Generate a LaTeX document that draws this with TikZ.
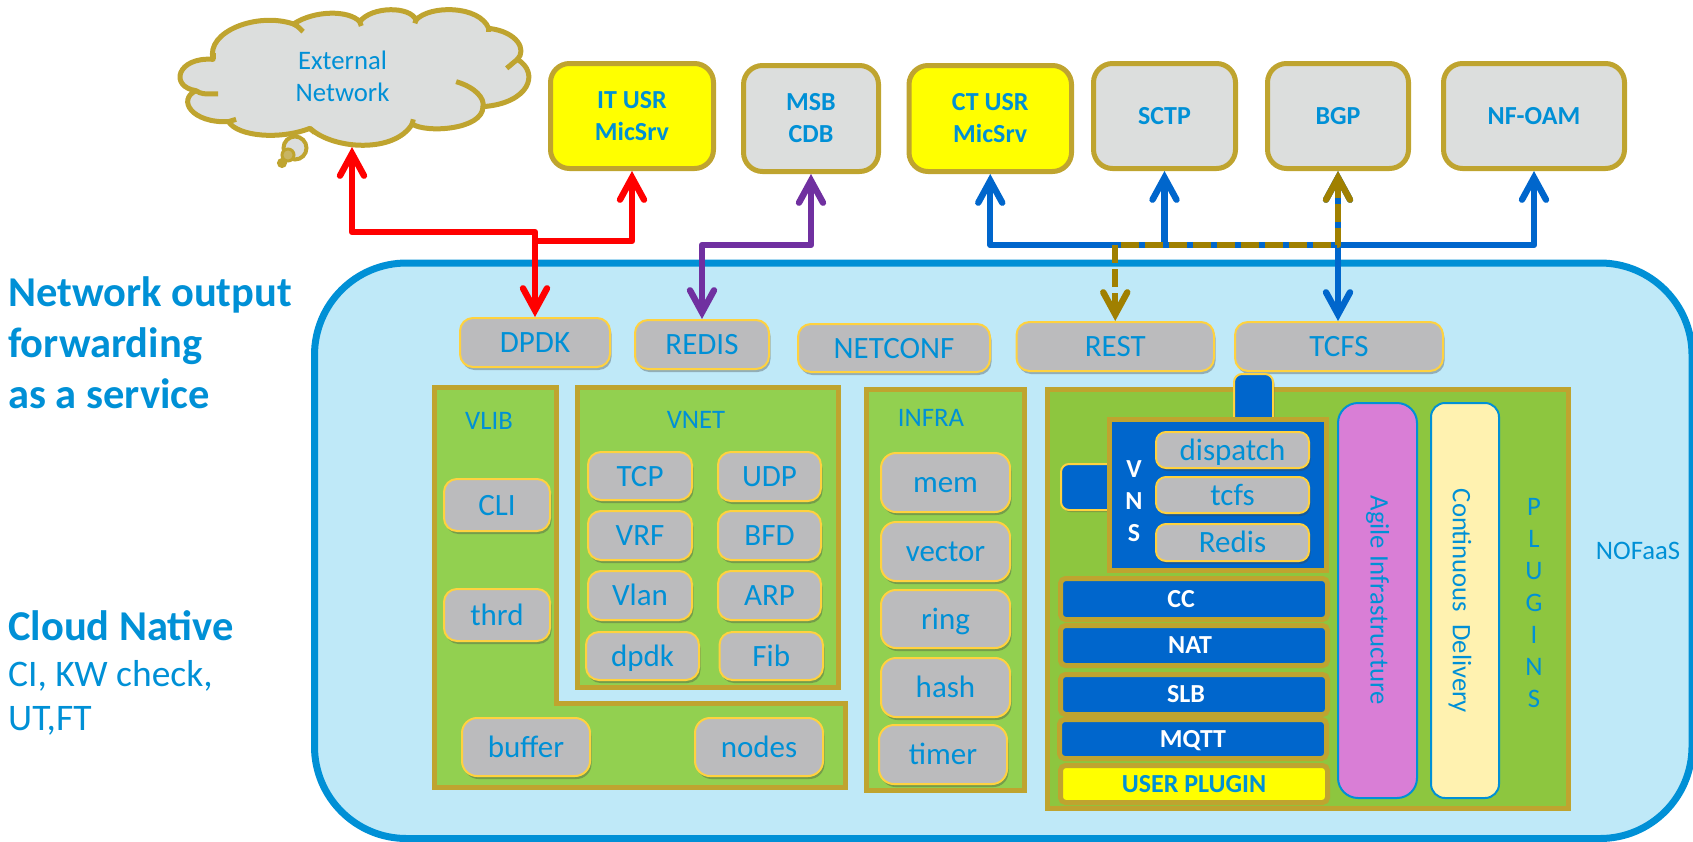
\documentclass[tikz,border=0pt]{standalone}
\usepackage{fontspec}
\setmainfont{Carlito}
\usetikzlibrary{arrows.meta,shadows,calc}
\definecolor{txtblue}{HTML}{0090D6}
\definecolor{gold}{HTML}{BFA42F}
\definecolor{ygold}{HTML}{FFD23F}
\definecolor{stdblue}{HTML}{0066CC}
\definecolor{topgray}{HTML}{DCDEDD}
\definecolor{midgray}{HTML}{BBBBBD}
\definecolor{mainfill}{HTML}{BFE9F8}
\definecolor{grnA}{HTML}{92D050}
\definecolor{grnB}{HTML}{8DC63F}
\definecolor{purp}{HTML}{7030A0}
\definecolor{dashgold}{HTML}{A08000}
\definecolor{pinkf}{HTML}{D97ED6}
\definecolor{creamf}{HTML}{FFF2B0}
\definecolor{pureyellow}{HTML}{FFFF00}
\definecolor{purered}{HTML}{FF0000}
\newcommand\mybox[8]{%
 \pgfmathsetmacro\myw{#6-#4-#3}\pgfmathsetmacro\myh{#7-#5-#3}%
 \pgfmathsetmacro\mycx{(#4+#6)/2}\pgfmathsetmacro\mycy{(#5+#7)/2}%
 \node[#1,minimum width=\myw pt,minimum height=\myh pt,line width=#3 pt] (#2) at (\mycx,\mycy) {#8};}
\tikzset{
 fA/.style={font=\fontsize{26.7}{32}\selectfont,text=txtblue},
 fB/.style={font=\bfseries\fontsize{26}{32}\selectfont,text=txtblue},
 topbox/.style={draw=gold,fill=topgray,rounded corners=19pt,inner sep=0pt,align=center,fB},
 ybox/.style={topbox,fill=pureyellow},
 gbox/.style={draw=ygold,fill=midgray,rounded corners=#1,inner sep=0pt,
   font=\fontsize{31}{36}\selectfont,text=txtblue,text height=26pt,text depth=6pt,
   drop shadow={shadow xshift=1.5pt,shadow yshift=-3pt,opacity=.35,fill=black!75}},
 gbox/.default=13pt,
 tabbox/.style={draw=ygold,fill=stdblue,rounded corners=8pt,
   drop shadow={shadow xshift=1.5pt,shadow yshift=-2pt,opacity=.35,fill=black!75}},
 panel/.style={draw=gold,fill=#1,line width=5pt,line join=miter},
 stripe/.style={draw=gold,fill=#1,rounded corners=5pt,inner sep=0pt,
   font=\bfseries\fontsize{26}{32}\selectfont,text=white,text height=21pt,text depth=4.3pt},
 tall/.style={draw=txtblue,fill=#1,inner sep=0pt},
 plain/.style={fA,inner sep=0pt,align=center},
 lefttxt/.style={inner sep=0pt,anchor=base west,align=left,text=txtblue},
 conn/.style={line width=6.4pt,line join=round,
   {Straight Barb[length=22pt,width=24pt,line cap=round,line join=miter]}-{Straight Barb[length=22pt,width=24pt,line cap=round,line join=miter]}},
 connup/.style={line width=6.4pt,line join=round,
   -{Straight Barb[length=22pt,width=24pt,line cap=round,line join=miter]}},
}
\begin{document}
\begin{tikzpicture}[x=1pt,y=-1pt]
\useasboundingbox (0,0) rectangle (1693,841);
\clip (0,0) rectangle (1693,841);
% main container
\draw[draw=txtblue,fill=mainfill,line width=7pt,rounded corners=92pt] (314.5,263) rectangle (1692,838.5);
\node[plain] (nofaas) at (1638,551) {NOFaaS};
% cloud
\begin{scope}[shift={(150,0)},x=0.3827pt,y=-0.3333pt,line width=5pt]
\draw[draw=gold,fill=topgray,line join=round]
 (165,178) .. controls (145,95) and (280,35) .. (375,72)
 .. controls (430,30) and (520,30) .. (548,65)
 .. controls (580,18) and (680,18) .. (695,60)
 .. controls (730,15) and (860,15) .. (885,85)
 .. controls (960,95) and (985,150) .. (960,178)
 .. controls (1020,220) and (990,310) .. (870,320)
 .. controls (870,390) and (720,400) .. (685,372)
 .. controls (640,460) and (480,450) .. (418,385)
 .. controls (340,420) and (230,410) .. (205,365)
 .. controls (110,370) and (70,300) .. (120,272)
 .. controls (50,260) and (70,170) .. (165,178) -- cycle;
\draw[gold] (375,72) .. controls (385,78) .. (400,95);
\draw[gold] (548,65) -- (552,78);
\draw[gold] (695,60) -- (692,70);
\draw[gold] (885,85) -- (885,95);
\draw[gold] (960,178) -- (932,205);
\draw[gold] (800,245) .. controls (850,262) and (875,295) .. (870,320);
\draw[gold] (685,372) -- (688,358);
\draw[gold] (418,385) -- (430,398);
\draw[gold] (205,365) -- (225,358);
\draw[gold] (120,272) .. controls (135,282) .. (178,282);
\draw[gold] (165,178) -- (165,160);
\end{scope}
\draw[draw=gold,fill=topgray,line width=4pt] (295,148) circle (11.5pt);
\draw[draw=gold,fill=gold!70!topgray,line width=3pt] (288,155) circle (6pt);
\draw[draw=gold,fill=gold,line width=2pt] (282,163) circle (4pt);
\node[plain] (extnet) at (342.5,76) {External\\Network};
\coordinate (cloudpt) at (352,147);
% top boxes
\mybox{ybox}{itusr}{5}{548}{61}{716}{171}{IT USR\\MicSrv}
\mybox{topbox}{msb}{5}{741}{63}{881}{174}{MSB\\CDB}
\mybox{ybox}{ctusr}{5}{906.5}{63}{1074}{174}{CT USR\\MicSrv}
\mybox{topbox}{sctp}{5}{1091}{61}{1238}{171}{SCTP}
\mybox{topbox}{bgp}{5}{1265}{61}{1411}{171}{BGP}
\mybox{topbox}{nfoam}{5}{1441}{61}{1627}{171}{NF-OAM}
% service row
\mybox{gbox}{dpdk}{2}{459}{317}{611}{368}{DPDK}
\mybox{gbox}{redis}{2}{634}{319}{770}{370}{REDIS}
\mybox{gbox}{netconf}{2}{797}{323}{991}{373}{NETCONF}
\mybox{gbox}{rest}{2}{1015.5}{321}{1215}{372}{REST}
\mybox{gbox}{tcfs}{2}{1234}{321}{1444}{372}{TCFS}
% VLIB
\draw[panel=grnA] (434.5,387.5) -- (556.5,387.5) -- (556.5,703.5) -- (845.5,703.5) -- (845.5,787.5) -- (434.5,787.5) -- cycle;
\node[plain] (vlib) at (489,421) {VLIB};
\mybox{gbox}{cli}{2}{443}{478}{551}{532}{CLI}
\mybox{gbox}{thrd}{2}{443}{588}{551}{642}{thrd}
\mybox{gbox=15pt}{buffer}{2}{461}{717}{591}{777}{buffer}
\mybox{gbox=15pt}{nodes}{2}{694}{717}{824}{777}{nodes}
% VNET
\draw[panel=grnA] (577.5,387.5) rectangle (838.5,687.5);
\node[plain] (vnet) at (696,420) {VNET};
\mybox{gbox}{tcp}{2}{587}{451}{693}{501}{TCP}
\mybox{gbox}{udp}{2}{717}{451}{822}{502}{UDP}
\mybox{gbox}{vrf}{2}{587}{510}{693}{561}{VRF}
\mybox{gbox}{bfd}{2}{717}{510}{822}{561}{BFD}
\mybox{gbox}{vlan}{2}{587}{570}{693}{621}{Vlan}
\mybox{gbox}{arp}{2}{717}{570}{822}{621}{ARP}
\mybox{gbox}{vdpdk}{2}{585}{631}{700}{681}{dpdk}
\mybox{gbox}{fib}{2}{718.5}{631}{824}{681}{Fib}
% INFRA
\draw[panel=grnA] (866.5,389.5) rectangle (1024.5,790.5);
\node[plain] (infra) at (931,418) {INFRA};
\mybox{gbox=15pt}{mem}{2}{880}{452}{1011}{513}{mem}
\mybox{gbox=15pt}{vector}{2}{880}{521}{1011}{582}{vector}
\mybox{gbox=15pt}{ring}{2}{880}{589}{1011}{649}{ring}
\mybox{gbox=15pt}{hash}{2}{880}{657}{1011}{718}{hash}
\mybox{gbox=15pt}{timer}{2}{878}{724}{1008}{785}{timer}
% plugins
\draw[panel=grnB] (1047.5,389.5) rectangle (1568.5,808.5);
\mybox{tabbox}{tabtop}{2}{1233}{373}{1274}{430}{}
\mybox{tabbox}{tableft}{2}{1060}{463}{1125}{511}{}
\mybox{stripe=stdblue,rounded corners=0pt}{vnsbox}{5}{1107}{417}{1329}{573}{}
\node[font=\bfseries\fontsize{26}{32}\selectfont,text=white,inner sep=0pt,align=center] (vns) at (1134,501) {V\\N\\S};
\mybox{gbox=10pt}{dispatch}{2}{1155}{431}{1310}{469}{dispatch}
\mybox{gbox=10pt}{vtcfs}{2}{1155}{476}{1310}{514}{tcfs}
\mybox{gbox=10pt}{vredis}{2}{1155}{523}{1310}{562}{Redis}
\mybox{stripe=stdblue}{cc}{5}{1058}{576}{1330}{622}{\kern-26pt CC}
\mybox{stripe=stdblue}{nat}{5}{1058}{623}{1330}{668}{\kern-8pt NAT}
\mybox{stripe=stdblue}{slb}{5}{1058}{672}{1330}{717}{\kern-16pt SLB}
\mybox{stripe=stdblue}{mqtt}{5}{1057}{717}{1329}{761}{MQTT}
\mybox{stripe=pureyellow,text=txtblue}{uplug}{5}{1058}{763}{1330}{805}{USER PLUGIN}
\mybox{tall=pinkf,rounded corners=20pt}{agile}{2}{1337}{402}{1418}{799}{}
\node[plain,rotate=-90] (agiletxt) at (1377.5,600) {Agile Infrastructure};
\mybox{tall=creamf,rounded corners=14pt}{cdel}{2}{1430}{402}{1500}{799}{}
\node[plain,rotate=-90] (cdeltxt) at (1460,601) {Continuous\ \ Delivery};
\node[plain] (plugins) at (1534,603) {P\\L\\U\\G\\I\\N\\S};
% left text
\node[lefttxt,font=\bfseries\fontsize{42.5}{51}\selectfont] (nof) at (8,306) {Network output};
\node[lefttxt,font=\bfseries\fontsize{42.5}{51}\selectfont] (nof2) at (8,357) {forwarding};
\node[lefttxt,font=\bfseries\fontsize{42.5}{51}\selectfont] (nof3) at (8,408) {as a service};
\node[lefttxt,font=\bfseries\fontsize{42.5}{51}\selectfont] (cn) at (8,640) {Cloud Native};
\node[lefttxt,font=\fontsize{37.5}{44}\selectfont] (ci) at (8,686) {CI, KW check,};
\node[lefttxt,font=\fontsize{37.5}{44}\selectfont] (ut) at (8,730) {UT,FT};
% connectors
\coordinate (ra) at (0,232);
\coordinate (rb) at (0,241);
\coordinate (bus) at (0,245);
\draw[conn,purered] (cloudpt) -- (cloudpt |- ra) -| (dpdk.north);
\draw[connup,purered] (dpdk.north |- rb) -| (itusr.south);
\draw[conn,purp] (redis.north) -- (redis.north |- bus) -| (msb.south);
\draw[conn,stdblue] (ctusr.south) -- (ctusr.south |- bus) -| (nfoam.south);
\draw[connup,stdblue] (sctp.south |- bus) -- (sctp.south);
\draw[conn,stdblue] (tcfs.north -| bgp.south) -- (bgp.south);
\draw[conn,dashgold,dash pattern=on 18pt off 6pt] (rest.north) -- (rest.north |- bus) -| (bgp.south);
\end{tikzpicture}
\end{document}
